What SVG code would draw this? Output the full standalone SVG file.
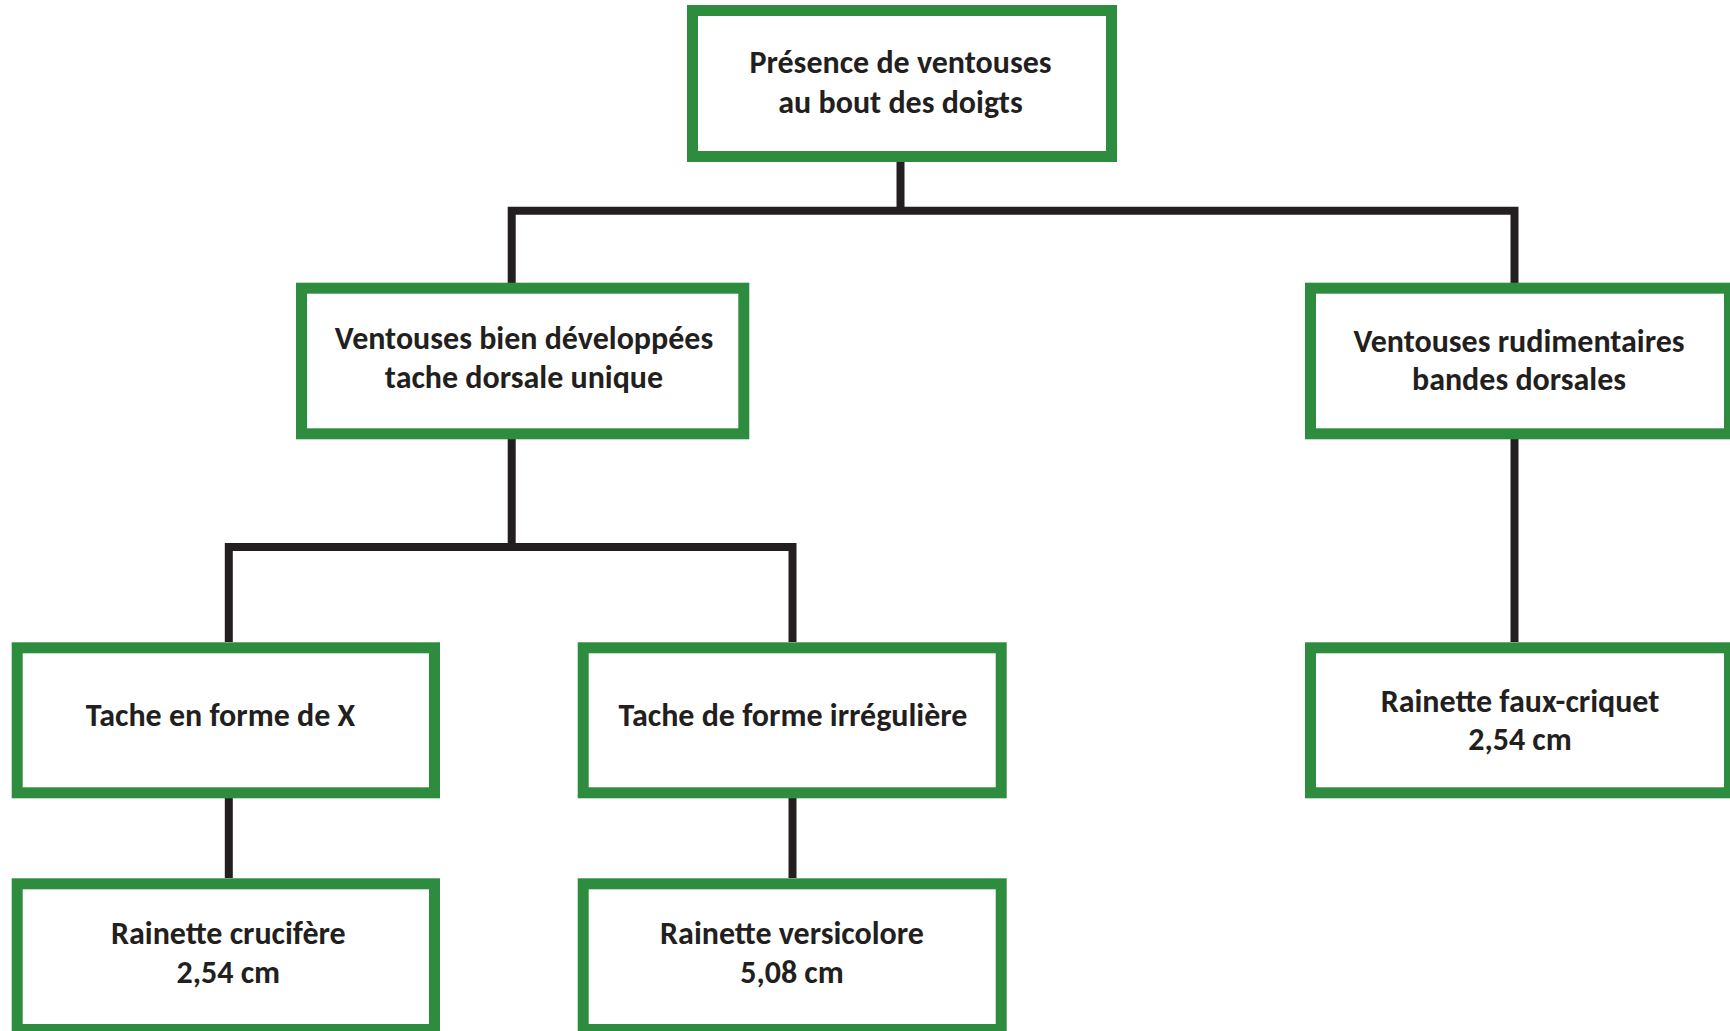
<svg xmlns="http://www.w3.org/2000/svg" width="1730" height="1031" viewBox="0 0 1730 1031">
<style>
.box{fill:#ffffff;stroke:#2e8c3f;stroke-width:11}
.lbl{font-family:"Carlito","Lato","Liberation Sans",sans-serif;font-weight:bold;font-size:32px;fill:#231f20;text-anchor:middle}
.con{fill:none;stroke:#231f20;stroke-width:8;stroke-linejoin:miter}
</style>
<rect x="0" y="0" width="1730" height="1031" fill="#ffffff"/>
<g id="connectors">
<path class="con" d="M900.5 162 V210.8"/>
<path class="con" d="M511.7 283 V210.8 H1514.5 V283"/>
<path class="con" d="M511.7 439 V547"/>
<path class="con" d="M228.8 642 V547 H792.5 V642"/>
<path class="con" d="M1514.5 439 V642"/>
<path class="con" d="M228.8 798 V878"/>
<path class="con" d="M792.5 798 V878"/>
</g>
<g id="n-root">
<rect class="box" x="692.5" y="10.5" width="419" height="146"/>
<text class="lbl" x="900.5" y="72.5">Présence de ventouses</text>
<text class="lbl" x="900.5" y="112.5">au bout des doigts</text>
</g>
<g id="n-bien">
<rect class="box" x="301.5" y="288.2" width="442.3" height="145.6"/>
<text class="lbl" x="524" y="348.5">Ventouses bien développées</text>
<text class="lbl" x="524" y="387.5">tache dorsale unique</text>
</g>
<g id="n-rudi">
<rect class="box" x="1310.5" y="288.2" width="419" height="145.6"/>
<text class="lbl" x="1519" y="352">Ventouses rudimentaires</text>
<text class="lbl" x="1519" y="389.5">bandes dorsales</text>
</g>
<g id="n-x">
<rect class="box" x="17.2" y="647.8" width="417.3" height="145"/>
<text class="lbl" x="220.5" y="725.7">Tache en forme de X</text>
</g>
<g id="n-irr">
<rect class="box" x="583.2" y="647.8" width="418" height="145"/>
<text class="lbl" x="793" y="725.7">Tache de forme irrégulière</text>
</g>
<g id="n-faux">
<rect class="box" x="1310.5" y="647.8" width="419" height="145"/>
<text class="lbl" x="1520" y="711.5">Rainette faux-criquet</text>
<text class="lbl" x="1520" y="749.5">2,54 cm</text>
</g>
<g id="n-cruc">
<rect class="box" x="17.2" y="883.8" width="417.3" height="145.7"/>
<text class="lbl" x="228.3" y="943.5">Rainette crucifère</text>
<text class="lbl" x="228.3" y="983">2,54 cm</text>
</g>
<g id="n-vers">
<rect class="box" x="583.2" y="883.8" width="418" height="145.7"/>
<text class="lbl" x="792" y="943.5">Rainette versicolore</text>
<text class="lbl" x="792" y="983">5,08 cm</text>
</g>
</svg>
